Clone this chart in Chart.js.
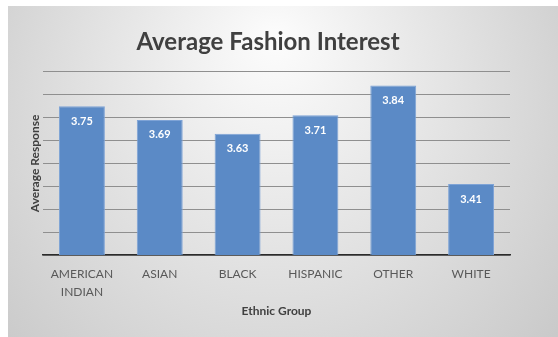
<!DOCTYPE html>
<html>
<head>
<meta charset="utf-8">
<script src="https://cdn.jsdelivr.net/npm/chart.js@4"></script>
<style>
  html, body { margin: 0; padding: 0; background: #fff; }
  #wrap { width: 558px; height: 337px; position: relative; }
</style>
</head>
<body>
<div id="wrap"><canvas id="myChart"></canvas></div>
<script>
const groups = [['AMERICAN', 'INDIAN'], 'ASIAN', 'BLACK', 'HISPANIC', 'OTHER', 'WHITE'];
const averages = [3.75, 3.69, 3.63, 3.71, 3.84, 3.41];

const fontFamily = 'Lato, "Open Sans", sans-serif';
const barColor = '#5b8ac6';

// grey panel behind the chart, lighter around the title
const panelBackground = {
  id: 'panelBackground',
  beforeDraw(chart) {
    const { ctx, width, height } = chart;
    const grad = ctx.createRadialGradient(275, 40, 10, 275, 120, 360);
    grad.addColorStop(0, '#fbfbfb');
    grad.addColorStop(1, '#c9c9c9');
    ctx.save();
    ctx.fillStyle = grad;
    ctx.fillRect(8, 6, width - 8, height - 6);
    ctx.restore();
  },
};

// nudge the title a little right, like the original
const titleShift = {
  id: 'titleShift',
  afterLayout(chart) {
    chart.titleBlock.left += 18;
  },
};

// value labels inside the top of each bar
const barValues = {
  id: 'barValues',
  afterDatasetsDraw(chart) {
    const { ctx } = chart;
    const meta = chart.getDatasetMeta(0);
    ctx.save();
    ctx.fillStyle = '#ffffff';
    ctx.font = `bold 11px ${fontFamily}`;
    ctx.textAlign = 'center';
    ctx.textBaseline = 'middle';
    meta.data.forEach((bar, i) => {
      ctx.fillText(averages[i].toFixed(2), bar.x, bar.y + 15);
    });
    ctx.restore();
  },
};

new Chart(document.querySelector('#myChart'), {
  type: 'bar',
  data: {
    labels: groups,
    datasets: [
      {
        data: averages,
        backgroundColor: barColor,
        borderColor: '#7ea3d6',
        borderWidth: 1,
        barPercentage: 0.59,
        categoryPercentage: 1,
      },
    ],
  },
  options: {
    responsive: true,
    maintainAspectRatio: false,
    animation: false,
    layout: {
      padding: { top: 0, left: 8, right: 48, bottom: 0 },
    },
    scales: {
      y: {
        min: 3.1,
        max: 3.9,
        ticks: { display: false, stepSize: 0.1 },
        border: { display: false },
        grid: { color: '#8f8f8f', lineWidth: 1, drawTicks: false },
        title: {
          display: true,
          text: 'Average Response',
          color: '#404040',
          font: { family: fontFamily, size: 12, weight: 'bold' },
          padding: { top: 20, bottom: 0 },
        },
        afterFit(scale) {
          scale.width = 35;
        },
      },
      x: {
        border: { display: true, color: '#2b2b2b', width: 1.5 },
        grid: { display: false, drawTicks: false },
        ticks: {
          color: '#595959',
          padding: 10,
          font: { family: fontFamily, size: 12, lineHeight: 1.5 },
          maxRotation: 0,
        },
        title: {
          display: true,
          text: 'Ethnic Group',
          color: '#404040',
          font: { family: fontFamily, size: 12, weight: 'bold' },
          padding: { top: 4, bottom: 19 },
        },
        afterFit(scale) {
          scale.height = 82;
        },
      },
    },
    plugins: {
      legend: { display: false },
      tooltip: { enabled: false },
      title: {
        display: true,
        text: 'Average Fashion Interest',
        color: '#404040',
        font: { family: fontFamily, size: 24, weight: 'bold' },
        padding: { top: 28, bottom: 15 },
      },
    },
  },
  plugins: [panelBackground, titleShift, barValues],
});
</script>
</body>
</html>
